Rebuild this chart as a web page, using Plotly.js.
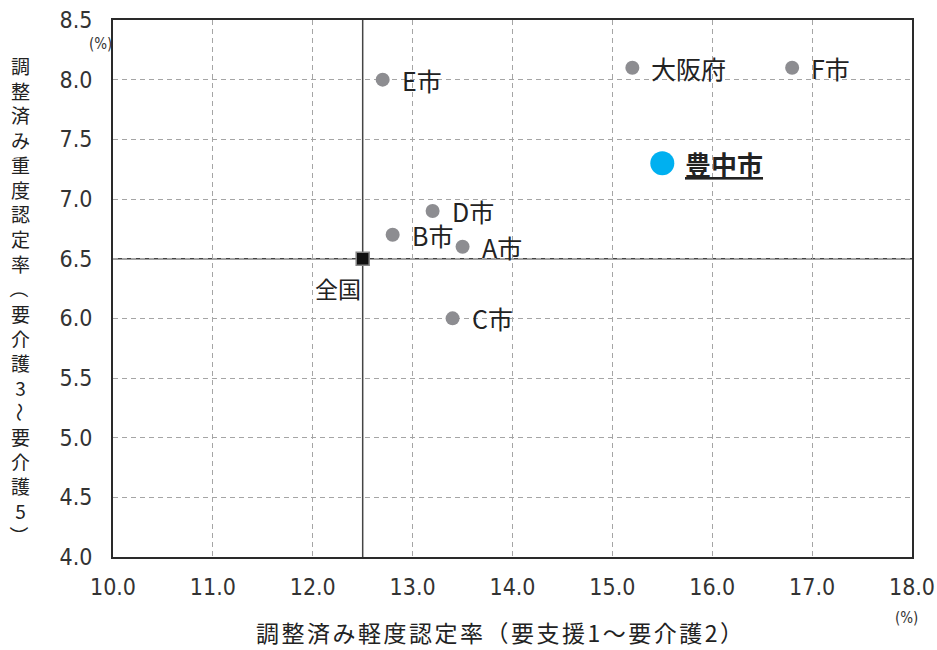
<!DOCTYPE html>
<html>
<head>
<meta charset="utf-8">
<script src="https://cdn.plot.ly/plotly-3.0.1.min.js"></script>
<style>html,body{margin:0;padding:0;background:#fff;}</style>
</head>
<body>
<div id="chart" style="width:937px;height:650px;"></div>
<script>
// ---- data ----
const cityNames = ['E市', '大阪府', 'F市', 'D市', 'B市', 'A市', 'C市'];
const cityLight = [12.7, 15.2, 16.8, 13.2, 12.8, 13.5, 13.4];
const citySevere = [8.0, 8.1, 8.1, 6.9, 6.7, 6.6, 6.0];
const focusName = ['豊中市'];
const focusLight = [15.5];
const focusSevere = [7.3];
const nationalName = ['全国'];
const nationalLight = [12.5];
const nationalSevere = [6.5];
const xTitle = '調整済み軽度認定率（要支援1～要介護2）';
// y title split into upright runs and sideways punctuation
const yTitleParts = ['調整済み重度認定率', '（', '要介護3', '～', '要介護5', '）'];
const unitLabel = '(%)';

// ---- styles ----
const cjk = 'Noto Sans CJK JP, sans-serif';
const numFont = 'Liberation Sans Narrow, Arial Narrow, DejaVu Sans Condensed, sans-serif';
const M = {l: 113, r: 25, t: 20, b: 93};

const traces = [
  {type: 'scatter', mode: 'markers', x: cityLight, y: citySevere,
   marker: {color: '#8d8d91', size: 14}, hoverinfo: 'skip'},
  {type: 'scatter', mode: 'markers', x: nationalLight, y: nationalSevere,
   marker: {color: '#111', size: 13, symbol: 'square', line: {color: '#888', width: 1.5}}, hoverinfo: 'skip'},
  {type: 'scatter', mode: 'markers', x: focusLight, y: focusSevere,
   marker: {color: '#00b0f0', size: 24}, hoverinfo: 'skip'}
];

const annotations = [];
cityNames.forEach((n, i) => annotations.push({
  x: cityLight[i], y: citySevere[i], xref: 'x', yref: 'y', text: n, showarrow: false,
  xanchor: 'left', yanchor: 'middle', xshift: 17,
  font: {family: cjk, size: 25, color: '#222'}
}));
annotations.push({
  x: focusLight[0], y: focusSevere[0], xref: 'x', yref: 'y', text: '<b><u>' + focusName[0] + '</u></b>', showarrow: false,
  xanchor: 'left', yanchor: 'middle', xshift: 21, font: {family: cjk, size: 26, color: '#222'}
});
annotations.push({
  x: nationalLight[0], y: nationalSevere[0], xref: 'x', yref: 'y', text: nationalName[0], showarrow: false,
  xanchor: 'center', yanchor: 'middle', xshift: -25, yshift: -29, font: {family: cjk, size: 23, color: '#222'}
});
// x title
annotations.push({
  x: 0.5, y: 0, xref: 'paper', yref: 'paper',
  text: '<span style="letter-spacing:2.5px">' + xTitle + '</span>', showarrow: false,
  xanchor: 'center', yanchor: 'middle', xshift: -12, yshift: -75, font: {family: cjk, size: 23, color: '#222'}
});
// y title, stacked vertically (one character per line)
const ySize = 19, yStep = ySize * 1.3, yTop = 46;
let slot = 0;
yTitleParts.forEach(part => {
  const chars = Array.from(part);
  const sideways = chars.length === 1 && /[（）～]/.test(part);
  const center = slot + (chars.length - 1) / 2;
  annotations.push({
    x: 0, y: 1, xref: 'paper', yref: 'paper', text: chars.join('<br>'), showarrow: false,
    textangle: sideways ? 90 : 0,
    xanchor: 'center', yanchor: 'middle', xshift: -93, yshift: -(yTop + center * yStep),
    font: {family: cjk, size: ySize, color: '#222'}
  });
  slot += chars.length;
});
// units
annotations.push({x: 0, y: 1, xref: 'paper', yref: 'paper', text: unitLabel, showarrow: false,
  xanchor: 'center', yanchor: 'middle', xshift: -13, yshift: -24, font: {family: numFont, size: 15, color: '#333'}});
annotations.push({x: 1, y: 0, xref: 'paper', yref: 'paper', text: unitLabel, showarrow: false,
  xanchor: 'center', yanchor: 'middle', xshift: -6, yshift: -61, font: {family: numFont, size: 15, color: '#333'}});

const shapes = [
  {type: 'line', xref: 'x', yref: 'paper', x0: nationalLight[0], x1: nationalLight[0], y0: 0, y1: 1,
   line: {color: '#444', width: 1.5}, layer: 'between'},
  {type: 'line', xref: 'paper', yref: 'y', x0: 0, x1: 1, y0: nationalSevere[0], y1: nationalSevere[0],
   line: {color: '#444', width: 1.5}, layer: 'between'}
];

const axisCommon = {
  showgrid: true, gridcolor: '#a5a5a5', gridwidth: 1, griddash: '5px,4px',
  showline: true, linecolor: '#2a2a2a', linewidth: 2, mirror: true,
  zeroline: false, ticks: '', tickformat: '.1f',
  tickfont: {family: numFont, size: 23, color: '#333'}, fixedrange: true
};

const layout = {
  width: 937, height: 650, margin: M,
  paper_bgcolor: '#fff', plot_bgcolor: '#fff', showlegend: false,
  xaxis: Object.assign({}, axisCommon, {range: [10, 18], tick0: 10, dtick: 1, ticklabelstandoff: 8}),
  yaxis: Object.assign({}, axisCommon, {range: [4, 8.5], tick0: 4, dtick: 0.5, ticklabelstandoff: 14}),
  annotations: annotations, shapes: shapes
};

Plotly.newPlot('chart', traces, layout, {displayModeBar: false, staticPlot: true});
</script>
</body>
</html>
